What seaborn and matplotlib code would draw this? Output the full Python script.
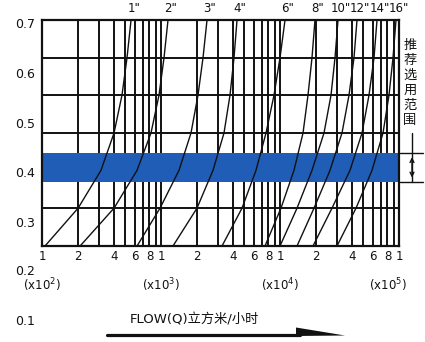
import numpy as np
import pandas as pd
import matplotlib
matplotlib.use("Agg")
import matplotlib.pyplot as plt
import seaborn as sns
from matplotlib.transforms import blended_transform_factory
from matplotlib.patches import Polygon
from matplotlib.lines import Line2D
from matplotlib.ticker import NullLocator

# ---------------- data ----------------
pipe_sizes = ['1"', '2"', '3"', '4"', '6"', '8"', '10"', '12"', '14"', '16"']
# pressure levels (MPa) at which each curve's flow was read (bottom -> top of the grid)
pressure_levels = [0.252, 0.328, 0.404, 0.479, 0.555, 0.630, 0.706]

flow_1in = [106, 201, 313, 403, 470, 518, 560]
flow_2in = [209, 403, 629, 824, 962, 1060, 1145]
flow_3in = [629, 981, 1417, 1787, 2046, 2254, 2436]
flow_4in = [1261, 2006, 2735, 3384, 3800, 4107, 4353]
flow_6in = [3256, 4794, 6285, 7627, 8904, 10000, 11020]
flow_8in = [7480, 10190, 13110, 15610, 17190, 18570, 19680]
flow_10in = [10000, 13900, 18570, 23430, 26830, 28990, 30730]
flow_12in = [13900, 19310, 26320, 33190, 38000, 41860, 44370]
flow_14in = [18940, 27350, 38740, 48890, 55960, 61660, 65340]
flow_16in = [30130, 43520, 59310, 73390, 82410, 89040, 94360]
curve_flows = [flow_1in, flow_2in, flow_3in, flow_4in, flow_6in,
               flow_8in, flow_10in, flow_12in, flow_14in, flow_16in]

recommended_band = [0.381, 0.439]

y_tick_values = [0.3, 0.4, 0.5, 0.6, 0.7]
y_tick_labels = ["0.3", "0.4", "0.5", "0.6", "0.7"]
y_extra_values = [0.2, 0.1]
y_extra_labels = ["0.2", "0.1"]

x_tick_values = [100, 200, 400, 600, 800, 1000, 2000, 4000, 6000, 8000,
                 10000, 20000, 40000, 60000, 80000, 100000]
x_tick_labels = ["1", "2", "4", "6", "8", "1", "2", "4", "6", "8",
                 "1", "2", "4", "6", "8", "1"]
decade_labels = ["(x10$^2$)", "(x10$^3$)", "(x10$^4$)", "(x10$^5$)"]
decade_positions = [100, 1000, 10000, 81000]

side_label = "推荐选用范围"
flow_label = "FLOW(Q)立方米/小时"

# ---------------- build table ----------------
rows = []
for size, flows in zip(pipe_sizes, curve_flows):
    for q, p in zip(flows, pressure_levels):
        rows.append({"size": size, "flow": q, "pressure": p})
df = pd.DataFrame(rows)

# ---------------- style ----------------
sns.set_theme(style="white")
plt.rcParams["font.family"] = ["DejaVu Sans", "Noto Sans CJK SC"]
ink = "#111111"

W, H = 425, 342
fig = plt.figure(figsize=(W / 100, H / 100), dpi=100)
fig.patch.set_facecolor("white")
ax = fig.add_axes([42 / W, 96 / H, 357 / W, 226 / H])
ax.set_facecolor("white")
ax.set_xscale("log")
ax.set_xlim(100, 100000)
ax.set_ylim(pressure_levels[0], pressure_levels[-1])

# grid lines (2..9 in each decade)
grid_flows = [m * 10 ** k for k in (2, 3, 4) for m in range(2, 11)][:-1]
for f in grid_flows:
    ax.axvline(f, color=ink, lw=1.4, zorder=1)
for p in pressure_levels[1:-1]:
    ax.axhline(p, color=ink, lw=1.4, zorder=1)

# recommended band
ax.axhspan(recommended_band[0], recommended_band[1], color="#1f5db6", lw=0, zorder=2)

# curves
sns.lineplot(data=df, x="flow", y="pressure", units="size", estimator=None,
             sort=False, color=ink, linewidth=1.0, ax=ax, legend=False, zorder=4)

for s in ax.spines.values():
    s.set_color(ink)
    s.set_linewidth(1.6)
    s.set_zorder(5)

ax.set_xlabel("")
ax.set_ylabel("")

# y ticks
ax.set_yticks(y_tick_values)
ax.set_yticklabels(y_tick_labels)
ax.tick_params(axis="y", length=0, pad=5, labelsize=9, labelcolor=ink)
ytrans = blended_transform_factory(ax.transAxes, ax.transData)
for v, lab in zip(y_extra_values, y_extra_labels):
    ax.text(-0.0195, v, lab, transform=ytrans, ha="right", va="center",
            fontsize=9, color=ink, clip_on=False)

# x ticks
ax.set_xticks(x_tick_values)
ax.set_xticklabels(x_tick_labels)
ax.xaxis.set_minor_locator(NullLocator())
ax.tick_params(axis="x", length=0, pad=3, labelsize=8.5, labelcolor=ink)
xtrans = ax.get_xaxis_transform()
for x, lab in zip(decade_positions, decade_labels):
    ax.text(x, -0.173, lab, transform=xtrans, ha="center", va="center",
            fontsize=8.5, color=ink, clip_on=False)

# pipe size labels at the top end of each curve
for size, flows in zip(pipe_sizes, curve_flows):
    ax.annotate(size, xy=(flows[-1], pressure_levels[-1]), xytext=(2, 8),
                textcoords="offset points", ha="center", va="center",
                fontsize=8.5, color=ink, annotation_clip=False)

# right side annotation
fig.text(410 / W, 1 - 83 / H, "\n".join(side_label), ha="center", va="center",
         fontsize=9.5, color=ink, linespacing=1.2,
         family=["Noto Sans CJK SC", "DejaVu Sans"])
rtrans = blended_transform_factory(fig.transFigure, ax.transData)
for b in recommended_band:
    ax.plot([400 / W, 423 / W], [b, b], transform=rtrans, color=ink, lw=1.0,
            clip_on=False)
ax.plot([412 / W, 412 / W], [pressure_levels[3], recommended_band[0]],
        transform=rtrans, color=ink, lw=1.0, clip_on=False)
ax.annotate("", xy=(412 / W, recommended_band[1]), xytext=(412 / W, recommended_band[0]),
            xycoords=rtrans, textcoords=rtrans,
            arrowprops=dict(arrowstyle="<->", lw=1.0, color=ink,
                            mutation_scale=7, shrinkA=3, shrinkB=3))

# flow label + arrow
fig.text(130 / W, 1 - 320 / H, flow_label, ha="left", va="center",
         fontsize=9.5, color=ink)
fig.add_artist(Line2D([107 / W, 300 / W], [1 - 335 / H, 1 - 335 / H],
                      transform=fig.transFigure, lw=2.3, color=ink))
fig.add_artist(Polygon([[296 / W, 1 - 327.5 / H], [345 / W, 1 - 335.5 / H],
                        [296 / W, 1 - 336 / H]], closed=True,
                       transform=fig.transFigure, color=ink, lw=0))

fig.savefig("out.png", dpi=100, facecolor="white")
